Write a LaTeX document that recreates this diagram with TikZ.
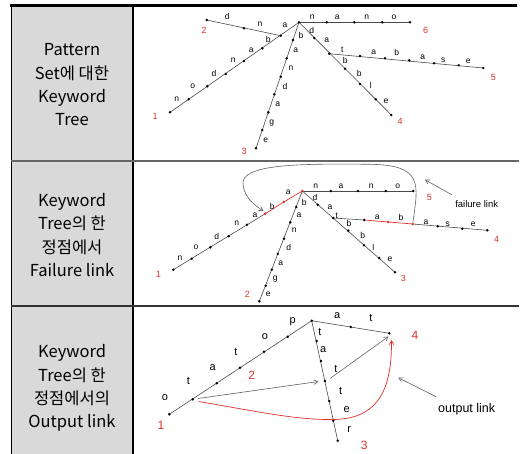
\documentclass[tikz,border=0pt]{standalone}
\usepackage{fontspec}
\setmainfont{Liberation Sans}
\newfontfamily\krfont{Noto Sans CJK KR}
\usetikzlibrary{arrows.meta}
\definecolor{cellgray}{HTML}{D9D9D9}
\definecolor{numred}{HTML}{E0302A}
\definecolor{edgegray}{HTML}{4A4A4A}
\definecolor{linkgray}{HTML}{606060}
\begin{document}
\begin{tikzpicture}[x=1pt,y=-1pt,
  celltext/.style={align=center,font=\krfont\fontsize{16.5}{23.3}\selectfont,inner sep=0},
  edge/.style={draw=edgegray,line width=0.6pt},
  redge/.style={draw=numred,line width=0.7pt},
  lt/.style={font=\fontsize{8.5}{9}\selectfont,inner sep=0},
  ltb/.style={font=\fontsize{11}{11}\selectfont,inner sep=0},
  num/.style={font=\fontsize{9}{9}\selectfont,text=numred,inner sep=0},
  numb/.style={font=\fontsize{12}{12}\selectfont,text=numred,inner sep=0},
  dotb/.style={circle,fill=black,inner sep=0,minimum size=2.8pt},
  dotr/.style={circle,fill=numred,inner sep=0,minimum size=2.8pt},
  linkarrow/.style={draw=linkgray,line width=0.6pt,-{Straight Barb[length=4pt,width=4.5pt]}},
  redarrow/.style={draw=numred,line width=0.7pt,-{Straight Barb[length=4pt,width=4.5pt]}}
]
\useasboundingbox (0,0) rectangle (521,454);
% ---------- table ----------
\fill[cellgray] (11,5) rectangle (133,454);
\draw[line width=0.9pt] (11,5) -- (11,454);
\draw[line width=1.2pt] (133,5) -- (133,454);
\draw[line width=1.3pt,color=black!60] (11,161) -- (519,161);
\draw[line width=1.3pt,color=black!80] (11,306) -- (519,306);
\draw[line width=2.6pt] (10,5.3) -- (517,5.3);
\node[celltext] (c1) at (72,85) {Pattern\\Set에 대한\\Keyword\\Tree};
\node[celltext] (c2) at (72,235) {Keyword\\Tree의 한\\정점에서\\Failure link};
\node[celltext] (c3) at (72,388) {Keyword\\Tree의 한\\정점에서의\\Output link};

% ---------- panel 1 ----------
\coordinate (r1) at (299,22.3);
\coordinate (na1) at (326.7,22.3); \coordinate (na2) at (354.3,22.3);
\coordinate (na3) at (382.3,22.3); \coordinate (na4) at (410,22.3);
\coordinate (a1) at (280.7,35.7); \coordinate (a2) at (262.3,48.3); \coordinate (a3) at (244,61);
\coordinate (a4) at (225.7,74); \coordinate (a5) at (207.3,86.3); \coordinate (a6) at (188.7,99.3);
\coordinate (a7) at (170,112.3);
\coordinate (b1) at (244,28.3); \coordinate (b2) at (206.7,20);
\coordinate (cc1) at (293,40); \coordinate (cc2) at (286.7,58.3); \coordinate (cc3) at (280.7,76.7);
\coordinate (cc4) at (274.3,94.3); \coordinate (cc5) at (268.3,112.3); \coordinate (cc6) at (262.3,130);
\coordinate (cc7) at (256,148.3);
\coordinate (d1) at (314.3,38); \coordinate (d2) at (329.3,53.7); \coordinate (d3) at (345,68.7);
\coordinate (d4) at (360,84); \coordinate (d5) at (375.7,99.3); \coordinate (d6) at (391.3,115);
\coordinate (e1) at (360,56); \coordinate (e2) at (385,58.3); \coordinate (e3) at (409.3,60.3);
\coordinate (e4) at (434,63.3); \coordinate (e5) at (458.7,65.3); \coordinate (e6) at (483.3,68);
\draw[edge] (r1) -- (na4);
\draw[edge] (r1) -- (a7);
\draw[edge] (a1) -- (b2);
\draw[edge] (r1) -- (cc7);
\draw[edge] (r1) -- (d6);
\draw[edge] (d2) -- (e6);
\foreach \p in {r1,na1,na2,na3,na4,a1,a2,a3,a4,a5,a6,a7,b1,b2,cc1,cc2,cc3,cc4,cc5,cc6,cc7,d1,d2,d3,d4,d5,d6,e1,e2,e3,e4,e5,e6}
  \node[dotb] (dot-\p) at (\p) {};
\node[lt] (l1n1) at (312.3,17.7) {n}; \node[lt] (l1n2) at (337.3,17.7) {a};
\node[lt] (l1n3) at (366.7,17.7) {n}; \node[lt] (l1n4) at (394,17.7) {o};
\node[lt] (l1a1) at (285,25) {a}; \node[lt] (l1a2) at (268.3,39.3) {b};
\node[lt] (l1a3) at (251.3,50.3) {a}; \node[lt] (l1a4) at (233.3,60) {n};
\node[lt] (l1a5) at (214,73.3) {d}; \node[lt] (l1a6) at (192.7,86) {o};
\node[lt] (l1a7) at (176.7,99.3) {n};
\node[lt] (l1b1) at (260,24) {n}; \node[lt] (l1b2) at (227.3,16.7) {d};
\node[lt] (l1c1) at (301,35.7) {b}; \node[lt] (l1c2) at (295.7,50.7) {a};
\node[lt] (l1c3) at (291,68.3) {n}; \node[lt] (l1c4) at (285,86.7) {d};
\node[lt] (l1c5) at (277.7,104) {a}; \node[lt] (l1c6) at (271.7,123.3) {g};
\node[lt] (l1c7) at (265.7,140) {e};
\node[lt] (l1d1) at (311.7,30) {d}; \node[lt] (l1d2) at (326.7,40.3) {a};
\node[lt] (l1d3) at (345.3,60) {b}; \node[lt] (l1d4) at (359.3,73.3) {b};
\node[lt] (l1d5) at (370.7,85) {l}; \node[lt] (l1d6) at (386,101.7) {e};
\node[lt] (l1e1) at (342.3,49.3) {t}; \node[lt] (l1e2) at (373.7,52.7) {a};
\node[lt] (l1e3) at (396.7,52.7) {b}; \node[lt] (l1e4) at (422.7,57.7) {a};
\node[lt] (l1e5) at (443.3,60) {s}; \node[lt] (l1e6) at (468.3,61) {e};
\node[num] (n1-1) at (155,116.7) {1}; \node[num] (n1-2) at (204,30) {2};
\node[num] (n1-3) at (244,151.7) {3}; \node[num] (n1-4) at (400,121.7) {4};
\node[num] (n1-5) at (493.3,77.7) {5}; \node[num] (n1-6) at (425.7,30) {6};

% ---------- panel 2 ----------
\coordinate (r2) at (302.3,191);
\coordinate (mb1) at (330.7,191); \coordinate (mb2) at (358,191);
\coordinate (mb3) at (385.7,191); \coordinate (mb4) at (413.3,191);
\coordinate (p1) at (283.7,202); \coordinate (p2) at (265.3,213.7); \coordinate (p3) at (247,224.7);
\coordinate (p4) at (228.7,236.3); \coordinate (p5) at (210.3,247.3); \coordinate (p6) at (191.7,258.7);
\coordinate (p7) at (173.3,269.7);
\coordinate (q1) at (296.3,207); \coordinate (q2) at (290.3,222.3); \coordinate (q3) at (284,238.7);
\coordinate (q4) at (277.7,254); \coordinate (q5) at (271.7,269.7); \coordinate (q6) at (265.7,285.7);
\coordinate (q7) at (259.3,301.3);
\coordinate (s1) at (317.7,204.7); \coordinate (s2) at (333.3,218); \coordinate (s3) at (348.3,230.7);
\coordinate (s4) at (364,245.3); \coordinate (s5) at (379.3,258); \coordinate (s6) at (395,272.3);
\coordinate (t1) at (364.3,220); \coordinate (t2) at (388.3,222); \coordinate (t3) at (412.7,224);
\coordinate (t4) at (437.7,226.3); \coordinate (t5) at (462.3,228.7); \coordinate (t6) at (487.3,230.3);
\draw[edge] (r2) -- (mb4);
\draw[edge] (p2) -- (p7);
\draw[redge] (r2) -- (p1) -- (p2);
\draw[edge] (r2) -- (q7);
\draw[edge] (r2) -- (s6);
\draw[edge] (s2) -- (t1);
\draw[redge] (t1) -- (t2) -- (t3);
\draw[edge] (t3) -- (t6);
\foreach \p in {mb1,mb2,mb3,mb4,p3,p4,p5,p6,p7,q1,q2,q3,q4,q5,q6,q7,s1,s2,s3,s4,s5,s6,t1,t4,t5,t6}
  \node[dotb] (dot-\p) at (\p) {};
\foreach \p in {r2,p1,p2,t2,t3}
  \node[dotr] (dot-\p) at (\p) {};
\coordinate (fl-end) at (263.5,211);
\draw[linkarrow] (dot-t3) .. controls (418,185) and (424,165) .. (370,164.3)
  .. controls (300,163.5) and (241,164) .. (243,184)
  .. controls (244,197) and (254,205) .. (fl-end);
\node[font=\fontsize{9.5}{10}\selectfont,inner sep=0] (fl) at (476.7,203.7) {failure link};
\coordinate (fl-tip) at (425,179.7);
\coordinate (fl-tail) at (451.7,194.7);
\draw[linkarrow] (fl-tail) -- (fl-tip);
\node[lt] (l2n1) at (315.7,186.3) {n}; \node[lt] (l2n2) at (341,186.3) {a};
\node[lt] (l2n3) at (371.3,186.3) {n}; \node[lt] (l2n4) at (397.7,186.3) {o};
\node[lt] (l2p1) at (288.3,192.3) {a}; \node[lt] (l2p2) at (272.3,206.3) {b};
\node[lt] (l2p3) at (255,215.3) {a}; \node[lt] (l2p4) at (236.7,223.7) {n};
\node[lt] (l2p5) at (216.7,236.3) {d}; \node[lt] (l2p6) at (196,247.3) {o};
\node[lt] (l2p7) at (180,258.7) {n};
\node[lt] (l2q1) at (304.3,202) {b}; \node[lt] (l2q2) at (299,215.3) {a};
\node[lt] (l2q3) at (294.3,230.7) {n}; \node[lt] (l2q4) at (288.7,247) {d};
\node[lt] (l2q5) at (280.7,263) {a}; \node[lt] (l2q6) at (275.3,279) {g};
\node[lt] (l2q7) at (268.3,294.7) {e};
\node[lt] (l2s1) at (315,197) {d}; \node[lt] (l2s2) at (330,207) {a};
\node[lt] (l2s3) at (349,223.7) {b}; \node[lt] (l2s4) at (362.7,235.3) {b};
\node[lt] (l2s5) at (373.3,247.3) {l}; \node[lt] (l2s6) at (390,259.7) {e};
\node[lt] (l2t1) at (336.7,215.3) {t}; \node[lt] (l2t2) at (377.3,217.3) {a};
\node[lt] (l2t3) at (401,217.3) {b}; \node[lt] (l2t4) at (426,222) {a};
\node[lt] (l2t5) at (447.7,224) {s}; \node[lt] (l2t6) at (473.3,224) {e};
\node[num] (n2-1) at (158.3,274) {1}; \node[num] (n2-2) at (247.3,294) {2};
\node[num] (n2-3) at (403.3,278) {3}; \node[num] (n2-4) at (496.7,239) {4};
\node[num] (n2-5) at (429.3,197.3) {5};

% ---------- panel 3 ----------
\coordinate (pn) at (311.7,320.7);
\coordinate (u1) at (287.7,336.7); \coordinate (u2) at (264,351.7); \coordinate (u3) at (240,367.7);
\coordinate (u4) at (216.7,383.3); \coordinate (u5) at (192.7,399.3); \coordinate (u6) at (169.3,414.3);
\coordinate (m1) at (350.7,327); \coordinate (m2) at (389.3,333.3);
\coordinate (v1) at (316.7,341); \coordinate (v2) at (321,361); \coordinate (v3) at (325,381);
\coordinate (v4) at (329.3,401); \coordinate (v5) at (333.3,420.7); \coordinate (v6) at (337.7,440.7);
\draw[edge] (u6) -- (pn) -- (m2);
\draw[edge] (pn) -- (v6);
\foreach \p in {pn,u1,u2,u3,u4,u5,u6,m1,m2,v1,v2,v3,v4,v5,v6}
  \node[dotb] (dot-\p) at (\p) {};
\coordinate (o1s) at (198,398.5); \coordinate (o1e) at (318.5,381.5);
\draw[linkarrow] (o1s) -- (o1e);
\coordinate (o2s) at (330,378.5); \coordinate (o2e) at (388.5,336.5);
\draw[linkarrow] (o2s) -- (o2e);
\coordinate (rs) at (198.5,401.5); \coordinate (re) at (391.5,340);
\draw[redarrow] (rs) .. controls (255,411) and (295,420) .. (333,419.5)
  .. controls (372,419) and (392,398) .. (re);
\node[font=\fontsize{12.5}{13}\selectfont,inner sep=0] (ol) at (466.7,409) {output link};
\coordinate (ol-tail) at (436,396.7); \coordinate (ol-tip) at (398.3,377.7);
\draw[linkarrow] (ol-tail) -- (ol-tip);
\node[ltb] (l3u0) at (292.7,321.7) {p}; \node[ltb] (l3u1) at (265,336.7) {o};
\node[ltb] (l3u2) at (236,351.7) {t}; \node[ltb] (l3u3) at (212.7,367.7) {a};
\node[ltb] (l3u4) at (188.3,381) {t}; \node[ltb] (l3u5) at (165,397.3) {o};
\node[ltb] (l3m1) at (337.3,315.7) {a}; \node[ltb] (l3m2) at (371,318.3) {t};
\node[ltb] (l3v1) at (320,331.7) {t}; \node[ltb] (l3v2) at (323.3,349.3) {a};
\node[ltb] (l3v3) at (336,369) {t}; \node[ltb] (l3v4) at (340.7,391) {t};
\node[ltb] (l3v5) at (346.7,409.3) {e}; \node[ltb] (l3v6) at (349.3,429.3) {r};
\node[numb] (n3-1) at (161,425.7) {1}; \node[numb] (n3-2) at (251.7,375) {2};
\node[numb] (n3-3) at (364.3,445.7) {3}; \node[numb] (n3-4) at (415,335) {4};
\end{tikzpicture}
\end{document}
